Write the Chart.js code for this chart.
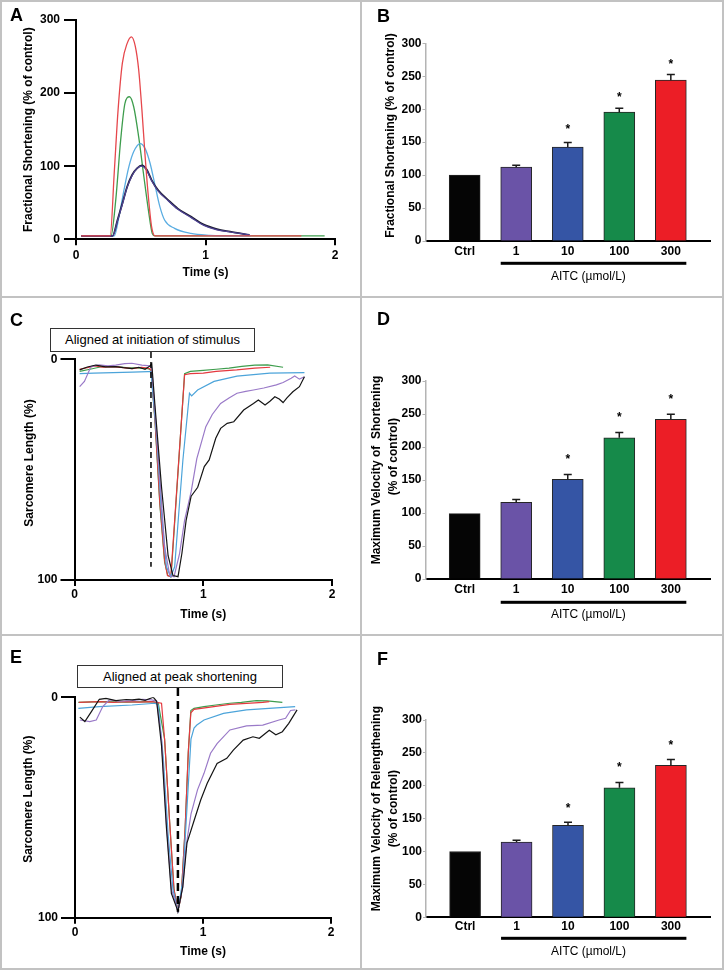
<!DOCTYPE html>
<html>
<head>
<meta charset="utf-8">
<title>AITC and cardiomyocyte contractility</title>
<script src="https://cdn.jsdelivr.net/npm/chart.js@4.4.1/dist/chart.umd.min.js"></script>
<style>
  html,body{margin:0;padding:0;background:#fff;}
  #fig{position:relative;width:724px;height:970px;background:#fff;overflow:hidden;font-family:'Liberation Sans',Arial,sans-serif;color:#000;}
  #fig canvas{position:absolute;}
  .rule{position:absolute;background:#c2c2c2;z-index:3;}
  .plabel{position:absolute;font-weight:bold;font-size:18px;line-height:18px;z-index:4;}
  .note{position:absolute;box-sizing:border-box;border:1px solid #333;background:#fff;font-size:13px;text-align:center;z-index:4;white-space:nowrap;}
</style>
</head>
<body>
<div id="fig">
  <canvas id="cA" width="360" height="296" style="left:0;top:0"></canvas>
  <canvas id="cB" width="360" height="296" style="left:362px;top:0"></canvas>
  <canvas id="cC" width="360" height="336" style="left:0;top:298px"></canvas>
  <canvas id="cD" width="360" height="336" style="left:362px;top:298px"></canvas>
  <canvas id="cE" width="360" height="332" style="left:0;top:636px"></canvas>
  <canvas id="cF" width="360" height="332" style="left:362px;top:636px"></canvas>

  <div class="rule" style="left:0;top:0;width:724px;height:2px"></div>
  <div class="rule" style="left:0;top:968px;width:724px;height:2px"></div>
  <div class="rule" style="left:0;top:0;width:2px;height:970px"></div>
  <div class="rule" style="left:722px;top:0;width:2px;height:970px"></div>
  <div class="rule" style="left:360px;top:0;width:2px;height:970px"></div>
  <div class="rule" style="left:0;top:296px;width:724px;height:2px"></div>
  <div class="rule" style="left:0;top:634px;width:724px;height:2px"></div>

  <div class="plabel" style="left:10px;top:6px">A</div>
  <div class="plabel" style="left:377px;top:7px">B</div>
  <div class="plabel" style="left:10px;top:311px">C</div>
  <div class="plabel" style="left:377px;top:310px">D</div>
  <div class="plabel" style="left:10px;top:648px">E</div>
  <div class="plabel" style="left:377px;top:650px">F</div>

  <div class="note" style="left:50px;top:328px;width:205px;height:24px;line-height:22px">Aligned at initiation of stimulus</div>
  <div class="note" style="left:77px;top:665px;width:206px;height:23px;line-height:21px">Aligned at peak shortening</div>
</div>
<script>
// ---------------- data ----------------
const groups = ['Ctrl', '1', '10', '100', '300'];
const timeTicks = [0, 1, 2];
const fsTicks = [0, 100, 200, 300];
const slTicks = [0, 100];
const barTicks = [0, 50, 100, 150, 200, 250, 300];
const AITC_LABEL = 'AITC (µmol/L)';

// Panel A: fractional shortening traces (time in s, % of control)
const aRedT = [0.04, 0.264, 0.295, 0.325, 0.358, 0.395, 0.428, 0.458, 0.484, 0.509, 0.534, 0.559, 0.584, 0.61, 1.0, 1.74];
const aRedV = [4.6, 4.6, 90, 177, 241, 268, 277, 264, 232, 177, 113, 58, 17, 4.6, 4.6, 4.6];
const aGreenT = [0.04, 0.27, 0.307, 0.345, 0.378, 0.413, 0.446, 0.484, 0.521, 0.559, 0.589, 0.61, 1.0, 1.92];
const aGreenV = [4.6, 4.6, 54, 136, 186, 195, 181, 140, 90, 40, 8, 4.6, 4.6, 4.6];
const aCyanT = [0.04, 0.295, 0.332, 0.37, 0.408, 0.446, 0.496, 0.534, 0.572, 0.61, 0.647, 0.685, 0.761, 0.887, 1.038, 1.19, 1.35];
const aCyanV = [4.6, 4.6, 31, 67, 99, 120, 131, 124, 104, 74, 45, 26, 15, 8, 5.5, 4.6, 4.6];
const aPurpleT = [0.04, 0.282, 0.32, 0.358, 0.395, 0.433, 0.471, 0.509, 0.547, 0.584, 0.635, 0.71, 0.786, 0.887, 0.987, 1.088, 1.19, 1.34];
const aPurpleV = [4.6, 4.6, 25, 48, 71, 87, 97, 100, 94, 80, 66, 53, 41, 30, 19, 13, 10, 6];
const aBlackT = [0.04, 0.282, 0.32, 0.358, 0.395, 0.433, 0.471, 0.509, 0.547, 0.584, 0.635, 0.71, 0.786, 0.887, 0.987, 1.088, 1.19, 1.34];
const aBlackV = [4.6, 4.6, 26, 49, 72, 88, 97, 101, 95, 81, 67, 54, 42, 31, 20, 14, 10.5, 6];

// Panel C: sarcomere length traces aligned at stimulus (time s, % shortening)
const cRedT = [0.04, 0.10, 0.16, 0.22, 0.30, 0.38, 0.45, 0.52, 0.57, 0.594, 0.625, 0.663, 0.70, 0.722, 0.748, 0.855, 0.90, 1.0, 1.1, 1.26, 1.4, 1.52];
const cRedV = [4.5, 3.8, 3.0, 3.5, 3.3, 3.8, 4.2, 3.6, 4.0, 4.5, 27, 65, 91, 98, 98.5, 7, 6.5, 6.3, 5.5, 4.8, 4.0, 3.6];
const cGreenT = [0.04, 0.12, 0.2, 0.3, 0.4, 0.5, 0.57, 0.594, 0.625, 0.663, 0.70, 0.725, 0.75, 0.855, 0.9, 1.0, 1.1, 1.2, 1.3, 1.4, 1.5, 1.62];
const cGreenV = [5.5, 4.5, 3.5, 3.2, 3.8, 4.0, 4.2, 5, 28, 66, 92, 98, 98.5, 6.5, 5.5, 5.0, 4.5, 4.0, 3.2, 2.6, 2.5, 3.6];
const cCyanT = [0.04, 0.15, 0.3, 0.45, 0.57, 0.594, 0.638, 0.676, 0.714, 0.747, 0.778, 0.816, 0.842, 0.893, 0.91, 0.956, 1.084, 1.262, 1.517, 1.786];
const cCyanV = [6.5, 6.3, 6.0, 5.8, 5.6, 5.6, 35, 70, 94, 98.5, 94, 65, 45.6, 15.4, 16.6, 13.9, 10, 7.6, 6.3, 6.0];
const cPurpleT = [0.04, 0.077, 0.128, 0.19, 0.26, 0.32, 0.39, 0.446, 0.523, 0.587, 0.6, 0.65, 0.70, 0.74, 0.773, 0.816, 0.855, 0.906, 0.95, 1.02, 1.07, 1.135, 1.2, 1.262, 1.33, 1.39, 1.47, 1.568, 1.62, 1.683, 1.71, 1.747, 1.786];
const cPurpleV = [12.4, 10, 3.3, 2.5, 3.0, 2.6, 2.0, 1.8, 2.6, 3.0, 4, 43, 85, 98, 98.5, 88, 73, 60, 45, 30.5, 25, 20, 17.5, 15.4, 14.5, 13.9, 13, 11.6, 10.5, 8.6, 7.6, 9, 7.9];
const cBlackT = [0.04, 0.1, 0.166, 0.24, 0.32, 0.38, 0.446, 0.5, 0.548, 0.587, 0.6, 0.625, 0.676, 0.727, 0.765, 0.804, 0.834, 0.867, 0.906, 0.957, 1.008, 1.046, 1.097, 1.135, 1.186, 1.237, 1.314, 1.39, 1.428, 1.48, 1.518, 1.556, 1.59, 1.62, 1.65, 1.696, 1.747, 1.786];
const cBlackV = [4.8, 3.5, 2.6, 3.4, 3.3, 3.8, 4.2, 3.6, 4.5, 3.0, 2.0, 21, 58, 89, 98, 98.5, 88, 73, 62, 58, 48.6, 45.6, 35.8, 31.3, 29, 28.3, 23, 20, 18.4, 20.7, 19, 17, 18, 19.6, 17.5, 14.7, 12.4, 7.9];
const cStimT = [0.594, 0.594];
const cStimV = [-3.3, 94];

// Panel E: sarcomere length traces aligned at peak shortening
const eRedT = [0.03, 0.19, 0.3, 0.4, 0.5, 0.6, 0.676, 0.70, 0.74, 0.773, 0.804, 0.83, 0.86, 0.885, 0.905, 0.93, 1.084, 1.21, 1.34, 1.467, 1.518];
const eRedV = [2.3, 2.0, 2.3, 2.0, 2.2, 2.0, 2.7, 19, 57, 87, 97, 90, 60, 25, 7, 5.5, 4.2, 3.2, 2.8, 2.3, 2.0];
const eGreenT = [0.026, 0.2, 0.4, 0.6, 0.65, 0.70, 0.74, 0.773, 0.804, 0.83, 0.86, 0.885, 0.905, 0.93, 1.008, 1.1, 1.21, 1.3, 1.416, 1.5, 1.62];
const eGreenV = [2.3, 2.0, 2.2, 2.0, 2.5, 19, 57, 87, 97, 90, 60, 25, 6, 5, 4.2, 3.5, 2.7, 2.3, 1.5, 1.6, 2.3];
const eCyanT = [0.026, 0.19, 0.446, 0.625, 0.65, 0.689, 0.727, 0.765, 0.804, 0.842, 0.875, 0.906, 0.93, 0.952, 1.008, 1.16, 1.34, 1.72];
const eCyanV = [5, 4.2, 3.5, 2.7, 3.5, 27, 62, 87, 97, 83, 50, 19, 14, 12.6, 10.3, 7.3, 5.7, 4.2];
const ePurpleT = [0.038, 0.115, 0.166, 0.217, 0.268, 0.35, 0.446, 0.523, 0.6, 0.638, 0.676, 0.714, 0.753, 0.804, 0.842, 0.867, 0.906, 0.957, 1.008, 1.059, 1.11, 1.21, 1.34, 1.467, 1.594, 1.645, 1.684, 1.722];
const ePurpleV = [10.3, 11, 10.3, 4.2, 1.2, 1.8, 1.5, 0.9, 1.2, 1.8, 19, 57, 87, 97, 86, 68, 53, 42, 34.5, 25.4, 21, 14.8, 13, 12.6, 10.3, 9.5, 6, 5.7];
const eBlackT = [0.038, 0.077, 0.128, 0.19, 0.242, 0.32, 0.4, 0.446, 0.5, 0.548, 0.612, 0.638, 0.676, 0.714, 0.753, 0.804, 0.842, 0.875, 0.93, 0.982, 1.033, 1.11, 1.186, 1.237, 1.314, 1.39, 1.44, 1.518, 1.569, 1.62, 1.67, 1.735];
const eBlackV = [9, 11, 6.5, 0.9, 0.5, 1.5, 1.0, 1.2, 0.8, 1.4, 0, 1.8, 22, 59, 89, 97, 86, 66, 56, 46.6, 39, 30, 27.7, 24, 19.4, 17.9, 18.6, 15, 17, 15.6, 11.8, 5.7];
const ePeakT = [0.804, 0.804];
const ePeakV = [-4.2, 97.3];

// Panel B: fractional shortening (% of control)
const fsMean = [100, 112, 142.5, 195.5, 244];
const fsErr  = [null, 115, 149.5, 201.5, 252.5];
const fsStar = [null, null, 175, 223.5, 272.5];
// Panel D: maximum velocity of shortening (% of control)
const vsMean = [99, 116, 151, 214, 242];
const vsErr  = [null, 120.5, 158.5, 222, 249.5];
const vsStar = [null, null, 187, 249.5, 277];
// Panel F: maximum velocity of relengthening (% of control)
const vrMean = [100, 114.5, 140, 197, 231];
const vrErr  = [null, 117, 144.5, 205, 240];
const vrStar = [null, null, 171.5, 232.5, 266.5];

// ---------------- styles ----------------
const barColors = ['#050505', '#6a53a7', '#3555a5', '#168a4a', '#ec1e26'];
const traceCol = { ctrl: '#151515', c1: '#9a7ac8', c10: '#4ca4da', c100: '#3e9d4d', c300: '#e4393f' };
const traceColA = { ctrl: '#1d1d33', c1: '#4f4396', c10: '#5aade2', c100: '#3e9d4d', c300: '#e6474c' };
const FONT = "'Liberation Sans', Arial, sans-serif";
const BAR_W = 31;
const sp = n => '\u00a0'.repeat(n);

Chart.defaults.font.family = FONT;
Chart.defaults.font.size = 12;
Chart.defaults.font.weight = 'bold';
Chart.defaults.color = '#000';
Chart.defaults.animation = false;
Chart.defaults.plugins.legend.display = false;
Chart.defaults.plugins.tooltip.enabled = false;

const pts = (t, v) => t.map((x, i) => ({ x, y: v[i] }));
const trace = (t, v, color, w, smooth) => ({
  data: pts(t, v), borderColor: color, borderWidth: w, pointRadius: 0,
  fill: false, tension: 0, cubicInterpolationMode: smooth ? 'monotone' : 'default'
});
const dashed = (t, v, w, dash) => ({
  data: pts(t, v), borderColor: '#000', borderWidth: w, borderDash: dash,
  pointRadius: 0, fill: false, clip: false
});

function traceChart(id, g, datasets, yCfg) {
  return new Chart(document.getElementById(id), {
    type: 'line',
    data: { datasets },
    options: {
      responsive: false, animation: false, events: [],
      layout: { padding: { left: 0, top: g.top, right: g.right, bottom: 0 } },
      scales: {
        x: {
          type: 'linear', min: 0, max: 2, offset: false,
          afterBuildTicks: s => { s.ticks = timeTicks.map(v => ({ value: v })); },
          afterFit: s => { s.height = g.h - g.bottom; },
          border: { display: true, color: '#000', width: 2 },
          grid: { display: true, drawOnChartArea: false, drawTicks: true, tickLength: 6, color: '#000', lineWidth: 2 },
          ticks: { padding: g.xPad, maxRotation: 0, autoSkip: false, callback: v => String(v) },
          title: { display: true, text: 'Time (s)', padding: { top: 0, bottom: g.xTitlePad } }
        },
        y: Object.assign({
          type: 'linear',
          afterFit: s => { s.width = g.left; },
          border: { display: true, color: '#000', width: 2 },
          grid: { display: true, drawOnChartArea: false, drawTicks: true, tickLength: g.yTick, color: '#000', lineWidth: 2 },
          title: { display: true, text: g.yTitle, padding: { top: g.yTitlePad, bottom: 0 } }
        }, yCfg)
      }
    }
  });
}

function barExtras(vals, errs, stars, g) {
  return {
    id: 'barExtras',
    afterDatasetsDraw(chart) {
      const { ctx, scales: { x, y } } = chart;
      ctx.save();
      ctx.strokeStyle = '#1b1b1b';
      ctx.lineWidth = 1.5;
      errs.forEach((e, i) => {
        if (e === null) return;
        const px = x.getPixelForValue(i);
        const y0 = y.getPixelForValue(vals[i]);
        const y1 = y.getPixelForValue(e);
        ctx.beginPath();
        ctx.moveTo(px, y0); ctx.lineTo(px, y1);
        ctx.moveTo(px - 4, y1); ctx.lineTo(px + 4, y1);
        ctx.stroke();
      });
      ctx.fillStyle = '#000';
      ctx.font = 'bold 12px ' + FONT;
      ctx.textAlign = 'center';
      ctx.textBaseline = 'alphabetic';
      stars.forEach((s, i) => {
        if (s === null) return;
        ctx.fillText('*', x.getPixelForValue(i), y.getPixelForValue(s) + 7);
      });
      ctx.restore();
    },
    afterDraw(chart) {
      const { ctx, scales: { x } } = chart;
      const x1 = x.getPixelForValue(1) - BAR_W / 2;
      const x2 = x.getPixelForValue(groups.length - 1) + BAR_W / 2;
      ctx.save();
      ctx.fillStyle = '#000';
      ctx.fillRect(x1, g.lineY - 1.5, x2 - x1, 3);
      ctx.font = '12px ' + FONT;
      ctx.textAlign = 'center';
      ctx.textBaseline = 'middle';
      ctx.fillText(AITC_LABEL, x.getPixelForValue(2.4), g.textY);
      ctx.restore();
    }
  };
}

function barChart(id, g, vals, errs, stars) {
  return new Chart(document.getElementById(id), {
    type: 'bar',
    data: {
      datasets: [{
        data: vals.map((v, i) => ({ x: i, y: v })),
        backgroundColor: barColors, borderColor: '#262626', borderWidth: 1,
        barThickness: BAR_W
      }]
    },
    options: {
      responsive: false, animation: false, events: [],
      layout: { padding: { left: 0, top: g.top, right: g.right, bottom: 0 } },
      scales: {
        x: {
          type: 'linear', min: -0.76, max: 4.76, offset: false,
          afterBuildTicks: s => { s.ticks = groups.map((_, i) => ({ value: i })); },
          afterFit: s => { s.height = g.h - g.bottom; },
          border: { display: true, color: '#000', width: 2 },
          grid: { display: false, drawTicks: false, drawOnChartArea: false, offset: false },
          ticks: { padding: g.xPad, maxRotation: 0, autoSkip: false, callback: v => groups[v] }
        },
        y: {
          type: 'linear', min: 0, max: 300,
          afterBuildTicks: s => { s.ticks = barTicks.map(v => ({ value: v })); },
          afterFit: s => { s.width = g.left; },
          border: { display: true, color: '#b4b4b4', width: 1.5 },
          grid: { display: true, drawOnChartArea: false, drawTicks: true, tickLength: 3, color: '#b4b4b4', lineWidth: 1 },
          ticks: { padding: 1 },
          title: { display: true, text: g.yTitle, font: { size: 12, weight: 'bold', lineHeight: 1.39 }, padding: { top: g.yTitlePad, bottom: 0 } }
        }
      }
    },
    plugins: [barExtras(vals, errs, stars, g)]
  });
}

// ---------------- panel A ----------------
traceChart('cA',
  { top: 20, right: 25, bottom: 239.3, h: 296, left: 76, xPad: 3, xTitlePad: 15.8, yTick: 12, yTitlePad: 21.8,
    yTitle: 'Fractional Shortening (% of control)' },
  [
    trace(aRedT, aRedV, traceColA.c300, 1.3, true),
    trace(aPurpleT, aPurpleV, traceColA.c1, 1.2, true),
    trace(aBlackT, aBlackV, traceColA.ctrl, 1.8, true),
    trace(aCyanT, aCyanV, traceColA.c10, 1.3, true),
    trace(aGreenT, aGreenV, traceColA.c100, 1.3, true)
  ],
  { min: 0, max: 300, afterBuildTicks: s => { s.ticks = fsTicks.map(v => ({ value: v })); }, ticks: { padding: 4 } }
);

// ---------------- panel B ----------------
barChart('cB',
  { top: 43.3, right: 12, bottom: 241, h: 296, left: 63.5, xPad: 3.5, yTitlePad: 20.8, lineY: 263.3, textY: 276.7,
    yTitle: sp(4) + 'Fractional Shortening (% of control)' },
  fsMean, fsErr, fsStar);

// ---------------- panel C ----------------
traceChart('cC',
  { top: 61.3, right: 28, bottom: 282, h: 336, left: 74.5, xPad: 1, xTitlePad: 11.8, yTick: 14, yTitlePad: 22.8,
    yTitle: sp(4) + 'Sarcomere Length (%)' },
  [
    dashed(cStimT, cStimV, 1.5, [6, 4]),
    trace(cBlackT, cBlackV, traceCol.ctrl, 1.2, false),
    trace(cPurpleT, cPurpleV, traceCol.c1, 1.2, false),
    trace(cCyanT, cCyanV, traceCol.c10, 1.2, false),
    trace(cRedT, cRedV, traceCol.c300, 1.2, false),
    trace(cGreenT, cGreenV, traceCol.c100, 1.2, false)
  ],
  { min: 0, max: 100, reverse: true, afterBuildTicks: s => { s.ticks = slTicks.map(v => ({ value: v })); }, ticks: { padding: 3 } }
);

// ---------------- panel D ----------------
barChart('cD',
  { top: 83, right: 12, bottom: 281, h: 336, left: 63.5, xPad: 3.8, yTitlePad: 6.65, lineY: 304.3, textY: 317,
    yTitle: [sp(6) + 'Maximum Velocity of  Shortening', sp(14) + '(% of control)'] },
  vsMean, vsErr, vsStar);

// ---------------- panel E ----------------
traceChart('cE',
  { top: 61.3, right: 29, bottom: 281.7, h: 332, left: 75, xPad: 1.6, xTitlePad: 9.1, yTick: 14, yTitlePad: 21.8,
    yTitle: sp(5) + 'Sarcomere Length (%)' },
  [
    dashed(ePeakT, ePeakV, 2.5, [8, 5]),
    trace(eBlackT, eBlackV, traceCol.ctrl, 1.2, false),
    trace(ePurpleT, ePurpleV, traceCol.c1, 1.2, false),
    trace(eCyanT, eCyanV, traceCol.c10, 1.2, false),
    trace(eRedT, eRedV, traceCol.c300, 1.2, false),
    trace(eGreenT, eGreenV, traceCol.c100, 1.2, false)
  ],
  { min: 0, max: 100, reverse: true, afterBuildTicks: s => { s.ticks = slTicks.map(v => ({ value: v })); }, ticks: { padding: 3 } }
);

// ---------------- panel F ----------------
barChart('cF',
  { top: 84, right: 12, bottom: 281.3, h: 332, left: 64, xPad: 2.2, yTitlePad: 6.65, lineY: 302.3, textY: 315.7,
    yTitle: [sp(6) + 'Maximum Velocity of Relengthening', sp(6) + '(% of control)'] },
  vrMean, vrErr, vrStar);
</script>
</body>
</html>
